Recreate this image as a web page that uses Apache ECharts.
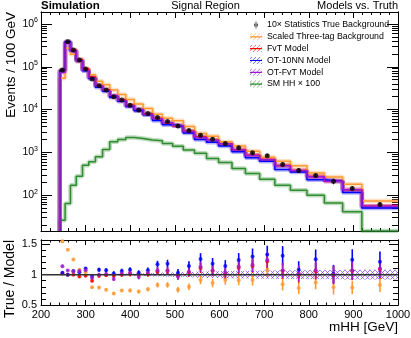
<!DOCTYPE html>
<html>
<head>
<meta charset="utf-8">
<script src="https://cdn.jsdelivr.net/npm/echarts@6/dist/echarts.min.js"></script>
<style>
  html, body { margin: 0; background: #fff; }
  #chart { width: 411px; height: 338px; }
</style>
</head>
<body>
<div id="chart"></div>
<script>
// bin edges in mHH (GeV), variable width
const binEdges = [242, 254, 266, 279, 293, 307, 322, 338, 354, 372, 390, 409, 429, 450, 472, 495, 519, 544, 571, 598, 628, 658, 690, 724, 759, 796, 835, 876, 919, 1000];

// events / 100 GeV
const trueBkg = [84000, 385000, 246000, 144000, 88500, 51700, 36000, 28600, 19900, 16700, 12700, 9730, 8060, 6500, 5240, 4110, 3230, 2530, 2040, 1620, 1280, 976, 830, 522, 378, 289, 212, 143, 60.5];
const trueRelErr = [0.02, 0.015, 0.015, 0.02, 0.02, 0.03, 0.03, 0.03, 0.035, 0.035, 0.04, 0.04, 0.045, 0.05, 0.055, 0.06, 0.07, 0.075, 0.08, 0.085, 0.09, 0.1, 0.11, 0.12, 0.13, 0.13, 0.15, 0.14, 0.14];
const threeTag = [54200, 273000, 197000, 133300, 85100, 65400, 45600, 38100, 28800, 22600, 17160, 13510, 10610, 7830, 6310, 5480, 4040, 2780, 2370, 1780, 1410, 1070, 769, 621, 485, 332, 268, 181, 73];
const fvt = [82400, 385000, 246000, 148500, 90300, 57400, 36700, 28900, 20300, 16700, 12570, 9730, 7980, 6190, 4940, 4190, 3110, 2280, 1920, 1600, 1150, 856, 680, 492, 378, 273, 214, 135, 55.5];
const ot10nn = [81600, 385000, 232000, 138500, 80500, 53300, 33300, 26700, 19500, 15750, 11760, 9450, 7530, 5560, 4440, 3990, 2830, 2010, 1730, 1420, 1030, 751, 624, 398, 350, 231, 210, 115, 50];
const otFvt = [73700, 360000, 234000, 135800, 82700, 54400, 36000, 28300, 21400, 16400, 12330, 10140, 7830, 6070, 4900, 4240, 3080, 2240, 1910, 1590, 1130, 841, 669, 488, 371, 270, 212, 134, 55];
const smHH = [26, 64, 171, 278, 503, 601, 787, 1170, 1770, 2010, 2240, 2120, 1940, 1860, 1620, 1400, 1130, 960, 722, 582, 422, 322, 237, 171, 131, 100, 66, 41, 0];
// model stat. uncertainty (relative), ratio band
const modelRelErr = [0.01, 0.005, 0.005, 0.006, 0.007, 0.008, 0.01, 0.012, 0.015, 0.018, 0.02, 0.022, 0.025, 0.03, 0.035, 0.04, 0.045, 0.05, 0.055, 0.06, 0.062, 0.065, 0.068, 0.07, 0.072, 0.075, 0.075, 0.08, 0.08];

// tick labels
const xTicks = [200, 300, 400, 500, 600, 700, 800, 900, 1000];
const yMajorTicks = [1e2, 1e3, 1e4, 1e5, 1e6];
const ratioTicks = [0.5, 1, 1.5];

const FONT = '"Liberation Sans", Arial, sans-serif';
const Y_MIN = 14.6, Y_MAX = 1.9e6;
const R_MIN = 0.5, R_MAX = 1.57;

const yMinorTicks = [];
for (let d = 10; d < Y_MAX; d *= 10) {
    for (let k = 2; k <= 9; k++) {
        const v = k * d;
        if (v > Y_MIN && v < Y_MAX) yMinorTicks.push(v);
    }
}
const ratioMinor = [];
for (let k = 6; k <= 15; k++) {
    if (k !== 10) ratioMinor.push(k / 10);
}

const centers = trueBkg.map((_, i) => (binEdges[i] + binEdges[i + 1]) / 2);

// histogram outline, starting from the bottom of the frame
function stepPoints(vals) {
    const pts = [[binEdges[0], Y_MIN]];
    vals.forEach((v, i) => {
        const y = Math.max(v, Y_MIN);
        pts.push([binEdges[i], y], [binEdges[i + 1], y]);
    });
    return pts;
}

// small diagonal hatch texture
function hatch(color, dir) {
    const c = document.createElement('canvas');
    c.width = 5; c.height = 5;
    const g = c.getContext('2d');
    g.strokeStyle = color;
    g.lineWidth = 0.9;
    g.beginPath();
    if (dir > 0) {
        g.moveTo(0, 5); g.lineTo(5, 0);
        g.moveTo(-1, 1); g.lineTo(1, -1);
        g.moveTo(4, 6); g.lineTo(6, 4);
    } else {
        g.moveTo(0, 0); g.lineTo(5, 5);
        g.moveTo(-1, 4); g.lineTo(1, 6);
        g.moveTo(4, -1); g.lineTo(6, 1);
    }
    g.stroke();
    return { image: c, repeat: 'repeat' };
}

const models = [
    { name: 'Scaled Three-tag Background', vals: threeTag, color: '#ff9933' },
    { name: 'FvT Model', vals: fvt, color: '#ff0000' },
    { name: 'OT-10NN Model', vals: ot10nn, color: '#0000ff' },
    { name: 'OT-FvT Model', vals: otFvt, color: '#9a1ad6' }
];
const DATA_NAME = '10\u00d7 Statistics True Background';
const SIG_NAME = 'SM HH \u00d7 100';

function xAxisFor(grid, pos, showLabels, len) {
    return {
        type: 'value', gridIndex: grid, position: pos,
        min: 200, max: 1000, interval: 100,
        axisLine: { show: true, onZero: false, lineStyle: { color: '#000', width: 1 } },
        axisTick: { show: true, inside: true, length: len, lineStyle: { color: '#000' } },
        minorTick: { show: true, splitNumber: 5, length: len / 2, lineStyle: { color: '#000' } },
        axisLabel: {
            show: showLabels, customValues: xTicks, margin: 4,
            formatter: v => String(v),
            fontSize: 11, fontFamily: FONT, color: '#000'
        },
        splitLine: { show: false },
        minorSplitLine: { show: false }
    };
}

function logAxis(pos, ticks, len, labels) {
    return {
        type: 'log', logBase: 10, gridIndex: 0, position: pos,
        min: Y_MIN, max: Y_MAX,
        axisLine: { show: true, onZero: false, lineStyle: { color: '#000' } },
        axisTick: { show: true, inside: true, length: len, customValues: ticks, lineStyle: { color: '#000' } },
        axisLabel: labels ? {
            customValues: ticks, margin: 3, color: '#000',
            formatter: v => '{b|10}{s|' + Math.round(Math.log10(v)) + '}',
            rich: {
                b: { fontSize: 10.5, fontFamily: FONT, color: '#000', lineHeight: 14 },
                s: { fontSize: 7, fontFamily: FONT, color: '#000', lineHeight: 9, verticalAlign: 'top' }
            }
        } : { show: false },
        splitLine: { show: false },
        minorTick: { show: false }
    };
}

function ratioAxis(pos, ticks, len, labels) {
    return {
        type: 'value', gridIndex: 1, position: pos,
        min: R_MIN, max: R_MAX,
        axisLine: { show: true, onZero: false, lineStyle: { color: '#000' } },
        axisTick: { show: true, inside: true, length: len, customValues: ticks, lineStyle: { color: '#000' } },
        axisLabel: labels ? {
            customValues: ticks, margin: 4, color: '#000',
            fontSize: 11, fontFamily: FONT
        } : { show: false },
        splitLine: { show: false },
        minorTick: { show: false }
    };
}

function errSeries(name, pts, color, xi, yi, width) {
    return {
        type: 'custom', name: name, xAxisIndex: xi, yAxisIndex: yi,
        clip: true, silent: true, data: pts,
        encode: { x: 0, y: [1, 2] },
        renderItem: (params, api) => {
            const a = api.coord([api.value(0), api.value(1)]);
            const b = api.coord([api.value(0), api.value(2)]);
            return {
                type: 'line',
                shape: { x1: a[0], y1: a[1], x2: b[0], y2: b[1] },
                style: { stroke: color, lineWidth: width }
            };
        }
    };
}

function bandSeries(name, color, dir) {
    const fill = hatch(color, dir);
    return {
        type: 'custom', name: name, xAxisIndex: 2, yAxisIndex: 4,
        clip: true, silent: true,
        data: modelRelErr.map((e, i) => [binEdges[i], binEdges[i + 1], 1 - e, 1 + e]),
        encode: { x: [0, 1], y: [2, 3] },
        renderItem: (params, api) => {
            const p1 = api.coord([api.value(0), api.value(3)]);
            const p2 = api.coord([api.value(1), api.value(2)]);
            return {
                type: 'rect',
                shape: { x: p1[0], y: p1[1], width: p2[0] - p1[0], height: p2[1] - p1[1] },
                style: { fill: fill }
            };
        }
    };
}

function lineSeries(name, pts, color, width, opacity, z) {
    return {
        type: 'line', name: name, xAxisIndex: 0, yAxisIndex: 0,
        data: pts, color: color, showSymbol: false, symbol: 'none',
        clip: true, silent: true, z: z,
        lineStyle: { color: color, width: width, opacity: opacity }
    };
}

const series = [];
// main panel: signal, models with light bands, then pseudo-data
series.push(lineSeries(SIG_NAME + ' band', stepPoints(smHH), '#2e8b2e', 4.5, 0.3, 2));
series.push(lineSeries(SIG_NAME, stepPoints(smHH), '#2e8b2e', 1.5, 1, 3));
models.forEach(m => {
    series.push(lineSeries(m.name + ' band', stepPoints(m.vals), m.color, 4.5, 0.3, 2));
    series.push(lineSeries(m.name, stepPoints(m.vals), m.color, 1.5, 1, 3));
});
series.push(errSeries('data err', trueBkg.map((v, i) => [centers[i], v * (1 - trueRelErr[i]), v * (1 + trueRelErr[i])]), '#000', 0, 0, 1.2));
series.push({
    type: 'scatter', name: DATA_NAME, xAxisIndex: 0, yAxisIndex: 0,
    data: trueBkg.map((v, i) => [centers[i], v]),
    color: '#000', symbolSize: 5, silent: true, z: 5
});

// ratio panel
series.push(bandSeries('OT-10NN unc', 'rgba(80,80,255,0.75)', -1));
series.push(bandSeries('OT-FvT unc', 'rgba(160,40,220,0.8)', 1));
series.push({
    type: 'line', name: 'unity', xAxisIndex: 2, yAxisIndex: 4,
    data: [[200, 1], [1000, 1]], showSymbol: false, symbol: 'none', silent: true,
    lineStyle: { color: '#333', width: 1.5 }
});
const ratioColors = ['#ff9933', '#ff0000', '#0000ff', '#a21ccc'];
models.forEach((m, k) => {
    const r = trueBkg.map((v, i) => v / m.vals[i]);
    series.push(errSeries(m.name + ' ratio err', r.map((v, i) => [centers[i], v * (1 - trueRelErr[i]), v * (1 + trueRelErr[i])]), ratioColors[k], 2, 4, 1.6));
    series.push({
        type: 'scatter', name: m.name + ' ratio', xAxisIndex: 2, yAxisIndex: 4,
        data: r.map((v, i) => [centers[i], v]), clip: true,
        color: ratioColors[k], symbolSize: 4, silent: true
    });
});

const DATA_ICON = 'path://M5.6,0 L6.4,0 L6.4,7 L5.6,7 Z M4,3.5 A2,2 0 1,0 8,3.5 A2,2 0 1,0 4,3.5 Z';
const HATCH_ICON = 'path://M0,3 L12,3 L12,4.2 L0,4.2 Z M0,1.6 L1.6,0 L2.2,0 L0,2.2 Z M0,5.6 L5.6,0 L6.2,0 L0,6.2 Z M2.8,7 L9.8,0 L10.4,0 L3.4,7 Z M6.8,7 L12,1.8 L12,2.4 L7.4,7 Z M10.8,7 L12,5.8 L12,6.4 L11.4,7 Z';

const titleStyle = (size, weight) => ({ fontSize: size, fontFamily: FONT, fontWeight: weight || 'normal', fill: '#000' });

const option = {
    animation: false,
    backgroundColor: '#fff',
    grid: [
        { left: 41, top: 12, width: 357, height: 219, show: false, outerBoundsMode: 'none' },
        { left: 41, top: 240, width: 357, height: 65, show: false, outerBoundsMode: 'none' }
    ],
    xAxis: [
        xAxisFor(0, 'bottom', false, 6),
        xAxisFor(0, 'top', false, 6),
        xAxisFor(1, 'bottom', true, 5),
        xAxisFor(1, 'top', false, 5)
    ],
    yAxis: [
        logAxis('left', yMajorTicks, 11, true),
        logAxis('left', yMinorTicks, 6, false),
        logAxis('right', yMajorTicks, 11, false),
        logAxis('right', yMinorTicks, 6, false),
        ratioAxis('left', ratioTicks, 9, true),
        ratioAxis('left', ratioMinor, 5, false),
        ratioAxis('right', ratioTicks, 9, false),
        ratioAxis('right', ratioMinor, 5, false)
    ],
    legend: {
        orient: 'vertical', left: 250, top: 20, padding: 0,
        itemWidth: 12, itemHeight: 7, itemGap: 1.8,
        selectedMode: false,
        itemStyle: { borderWidth: 0 },
        textStyle: { fontSize: 8.8, lineHeight: 10, fontFamily: FONT, color: '#000' },
        data: [
            { name: DATA_NAME, icon: DATA_ICON },
            { name: 'Scaled Three-tag Background', icon: HATCH_ICON },
            { name: 'FvT Model', icon: HATCH_ICON },
            { name: 'OT-10NN Model', icon: HATCH_ICON },
            { name: 'OT-FvT Model', icon: HATCH_ICON },
            { name: SIG_NAME, icon: HATCH_ICON }
        ]
    },
    graphic: [
        { type: 'text', x: 41, y: 6, style: Object.assign({ text: 'Simulation', align: 'left', verticalAlign: 'middle' }, titleStyle(11.5, 'bold')) },
        { type: 'text', x: 205.5, y: 6, style: Object.assign({ text: 'Signal Region', align: 'center', verticalAlign: 'middle' }, titleStyle(11)) },
        { type: 'text', x: 398, y: 6, style: Object.assign({ text: 'Models vs. Truth', align: 'right', verticalAlign: 'middle' }, titleStyle(11)) },
        { type: 'text', x: 11, y: 12, rotation: Math.PI / 2, style: Object.assign({ text: 'Events / 100 GeV', align: 'right', verticalAlign: 'middle' }, titleStyle(13.5)) },
        { type: 'text', x: 10, y: 240, rotation: Math.PI / 2, style: Object.assign({ text: 'True / Model', align: 'right', verticalAlign: 'middle' }, titleStyle(14)) },
        { type: 'text', x: 398, y: 327, style: Object.assign({ text: 'mHH [GeV]', align: 'right', verticalAlign: 'middle' }, titleStyle(13.5)) }
    ],
    series: series
};

const chart = echarts.init(document.getElementById('chart'), null, { renderer: 'canvas' });
chart.setOption(option);
</script>
</body>
</html>
